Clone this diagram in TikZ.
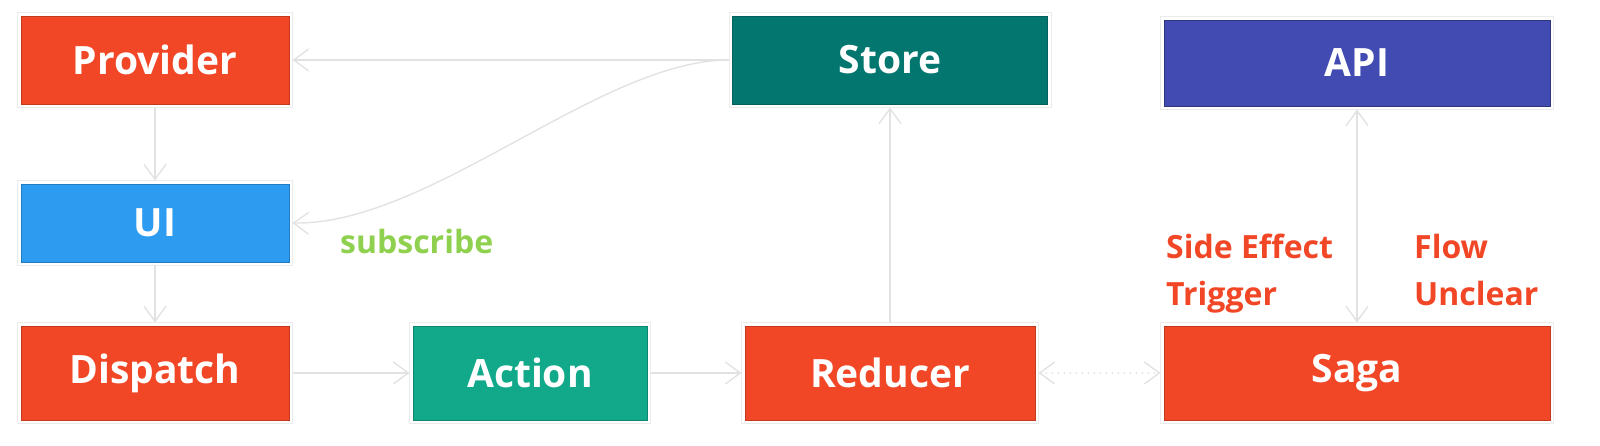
\documentclass[tikz,border=0pt]{standalone}
\usepackage{fontspec}
\setmainfont{Open Sans}
\usetikzlibrary{arrows.meta}
\definecolor{fire}{HTML}{F24726}
\definecolor{sky}{HTML}{2D9BF0}
\definecolor{teal}{HTML}{03776F}
\definecolor{jade}{HTML}{11A98A}
\definecolor{indigo}{HTML}{414BB2}
\definecolor{lime}{HTML}{8FD14F}
\definecolor{linkgray}{HTML}{E2E2E2}
\definecolor{framegray}{HTML}{EBEBEB}
\begin{document}
\begin{tikzpicture}[x=1pt,y=-1pt]
	\useasboundingbox (0,0) rectangle (1600,446);
	\tikzstyle{block} = [rectangle,minimum height=88pt,inner sep=0pt,outer sep=3.5pt,line width=0.8pt,text=white,font=\fontsize{39}{44}\selectfont\bfseries]
	\tikzstyle{frame} = [draw=framegray,line width=1pt]
	\tikzstyle{link} = [draw=linkgray,line width=1.4pt,-{Straight Barb[length=15pt,width=22pt,line width=1.4pt]}]
	\tikzstyle{note} = [align=left,anchor=north west,inner sep=0pt,font=\fontsize{32}{47}\selectfont\bfseries]
	\node[block,fill=fire,draw=fire!80!black,minimum width=268pt](provider)at (155,60){Provider};
	\node[block,fill=sky,draw=sky!80!black,minimum width=268pt,minimum height=78pt](ui)at (155,223){UI};
	\node[block,fill=fire,draw=fire!80!black,minimum width=268pt,minimum height=94pt](dispatch)at (155,373){Dispatch};
	\node[block,fill=jade,draw=jade!80!black,minimum width=234pt,minimum height=94pt](action)at (530,373){Action};
	\node[block,fill=fire,draw=fire!80!black,minimum width=290pt,minimum height=94pt](reducer)at (890,373){Reducer};
	\node[block,fill=teal,draw=teal!80!black,minimum width=315pt](store)at (890,60){Store};
	\node[block,fill=indigo,draw=indigo!70!black,minimum width=386pt,minimum height=86pt](api)at (1357,63){API};
	\node[block,fill=fire,draw=fire!80!black,minimum width=386pt,minimum height=94pt](saga)at (1357,373){Saga};
	\foreach \n in {provider,ui,dispatch,action,reducer,store,api,saga}
		\draw[frame] (\n.north west) rectangle (\n.south east);
	% labels
	\node[note,text=lime,anchor=base west](subscribe)at (340,254){subscribe};
	\node[note,text=fire](trigger)at (1166,234){Side Effect\\Trigger};
	\node[note,text=fire](unclear)at (1414,234){Flow\\Unclear};
	% connectors
	\path[link] (store) edge (provider)
	(provider) edge (ui)
	(ui) edge (dispatch)
	(dispatch) edge (action)
	(action) edge (reducer)
	(reducer) edge (store);
	\draw[link] (store.west) .. controls (600,60) and (430,225) .. (ui.east);
	\draw[link,{Straight Barb[length=15pt,width=22pt,line width=1.4pt]}-{Straight Barb[length=15pt,width=22pt,line width=1.4pt]}] (api) -- (saga);
	\draw[link,line cap=round,dash pattern=on 0pt off 6pt,line width=2.2pt,{Straight Barb[length=15pt,width=22pt,line width=1.4pt]}-{Straight Barb[length=15pt,width=22pt,line width=1.4pt]}] (reducer) -- (saga);
\end{tikzpicture}
\end{document}
